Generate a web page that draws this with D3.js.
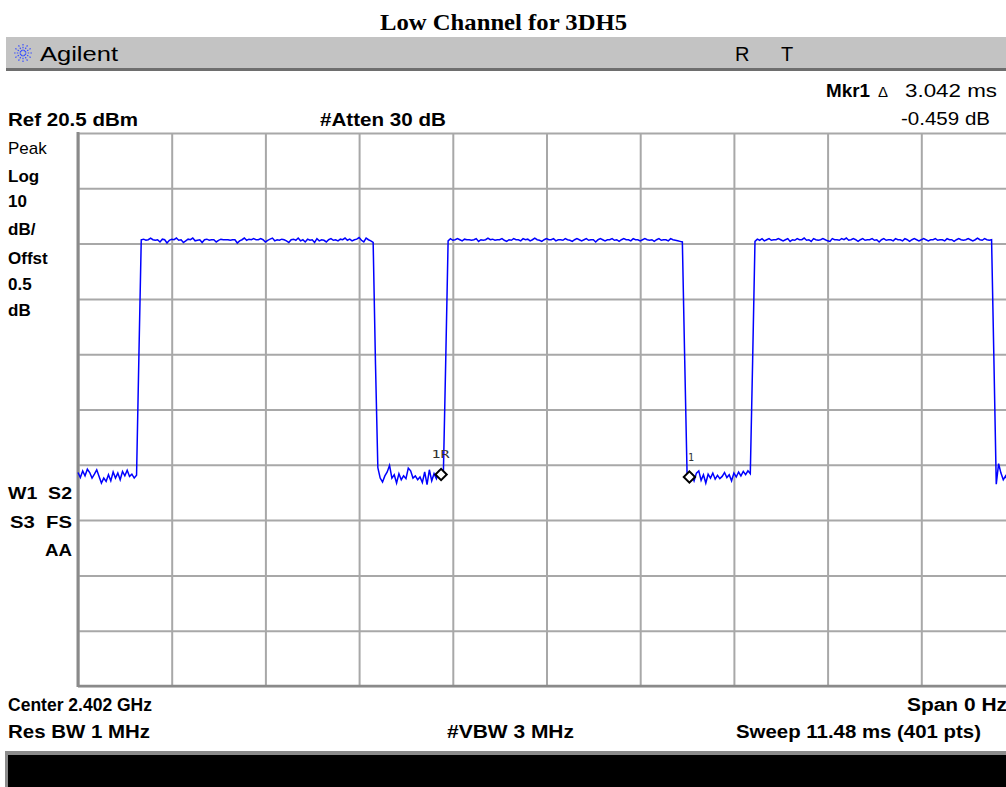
<!DOCTYPE html>
<html>
<head>
<meta charset="utf-8">
<script src="https://cdn.jsdelivr.net/npm/d3@7"></script>
<style>
  html, body { margin: 0; padding: 0; background: #fff; }
  svg { display: block; }
  .inst { font-family: "Liberation Sans Narrow", "Arial Narrow", "Liberation Sans", Arial, sans-serif; }
  .reg { font-family: "Liberation Sans", Arial, sans-serif; }
</style>
</head>
<body>
<svg id="chart" width="1006" height="787"></svg>
<script>
// Zero-span sweep settings
const sweepMs = 11.48;
const nPoints = 401;
const refLevelDbm = 20.5;
const dbPerDiv = 10;
const xDivisions = 10;
const yDivisions = 10;

// Trace amplitude per sweep point (dBm), points 0..400
const lowGap1 = [-40.9,-41.8,-40.6,-41.5,-40.3,-40.9,-41.9,-41.2,-40.4,-41.6,-42.8,-41.9,-42.5,-41.3,-42.4,-40.8,-41.9,-41.0,-42.2,-40.7,-41.5,-40.5,-41.6,-41.2,-41.9,-41.4];
const edgeRise1 = [-19.8];
const burst1 = [
  1.2,1.3,1.1,1.2,1.5,1.2,1.1,1.2,0.8,1.3,
  1.2,0.6,1.1,1.3,1.2,1.5,1.1,1.2,0.7,1.0,
  1.3,1.2,1.5,1.0,1.1,1.2,0.7,1.2,1.3,1.1,
  1.2,1.2,0.8,1.1,1.3,1.2,1.2,1.2,1.1,1.2,
  1.2,0.6,1.0,1.2,1.5,1.1,1.3,1.2,1.4,1.2,
  1.2,1.4,1.2,0.8,1.1,1.3,1.5,1.0,1.2,1.1,
  1.3,1.2,1.0,0.7,1.2,1.3,1.1,1.5,1.0,1.2,
  0.8,1.3,1.1,1.2,0.7,1.4,1.0,1.2,1.1,0.8,
  1.2,1.4,1.1,1.2,1.0,1.3,1.2,1.5,1.1,1.3,
  1.0,1.2,1.3,1.6,1.1,0.8,1.5,1.2,1.0,0.7];
const edgeFall1 = [-21.3];
const lowGap2 = [-40.0,-41.9,-42.6,-41.5,-40.8,-39.6,-41.9,-41.3,-42.8,-41.1,-42.2,-41.5,-42.0,-40.1,-40.6,-41.9,-41.5,-42.2,-41.7,-42.7,-40.8,-43.1,-40.4,-42.4,-41.1,-42.0,-40.7,-41.25,-40.5];
const edgeRise2 = [-20.3];
const burst2 = [
  1.0,1.4,1.1,1.2,1.4,1.2,1.0,1.3,1.2,1.2,
  1.1,1.2,1.4,0.9,1.2,1.1,1.2,1.5,1.2,1.3,
  1.1,1.2,1.2,1.4,1.1,0.9,1.2,1.1,1.4,1.2,
  1.2,1.0,1.4,1.2,1.3,1.0,1.2,1.5,1.2,1.1,
  0.9,1.2,1.4,1.2,1.2,1.4,1.0,1.2,1.2,1.1,
  1.4,1.2,1.1,0.9,1.2,1.4,1.2,1.0,1.2,1.4,
  1.1,1.2,1.2,0.8,1.2,1.4,1.2,1.0,1.2,1.2,
  1.4,1.1,1.2,0.9,1.2,1.4,1.2,1.2,1.0,1.4,
  1.2,1.2,1.0,1.2,1.4,1.2,1.1,1.2,0.9,1.2,
  1.4,1.1,1.2,1.2,1.0,1.4,1.2,1.1,1.0,0.9,
  0.8];
const edgeFall2 = [-20.5];
const lowGap3 = [-41.0,-41.71,-41.2,-42.4,-41.0,-40.6,-42.3,-41.3,-42.8,-41.2,-41.9,-41.0,-42.1,-41.4,-42.0,-41.6,-40.9,-41.8,-41.3,-42.4,-41.0,-41.7,-40.8,-41.5,-40.7,-41.3,-40.6,-41.1];
const edgeRise3 = [-20.7];
const burst3 = [
  0.9,1.3,1.1,1.4,1.0,1.2,1.4,1.1,1.2,1.2,
  1.4,1.2,1.0,1.2,1.4,0.9,1.2,1.1,1.4,1.2,
  1.2,1.5,1.1,1.2,0.9,1.4,1.2,1.1,1.2,1.4,
  1.2,1.0,0.9,1.4,1.2,1.2,1.1,1.4,1.2,1.5,
  1.1,1.2,1.4,1.2,0.9,1.2,1.4,1.1,1.2,1.2,
  1.4,1.1,1.2,0.8,1.2,1.4,1.1,1.2,1.2,1.0,
  1.4,1.2,1.2,1.0,1.4,1.2,0.9,1.2,1.4,1.2,
  1.0,1.2,1.4,1.2,1.0,1.2,1.2,1.4,1.1,1.2,
  1.2,1.0,1.4,1.2,1.2,0.9,1.2,1.4,1.2,1.1,
  1.2,1.4,1.2,1.0,1.2,1.5,1.2,1.1,1.4,1.2,
  1.1,1.2];
const edgeFall3 = [-20.6];
const lowGap4 = [-43.0,-39.3,-41.0,-42.2,-41.5,-42.6,-41.2,-41.9,-40.8];

// Markers: sweep point index and label
const markerIndex = [155, 261];
const markerLabel = ["1R", "1"];

// Annotation text
const titleText = "Low Channel for 3DH5";
const leftLabels = ["Peak", "Log", "10", "dB/", "Offst", "0.5", "dB"];
const statusLabels = ["W1  S2", "S3  FS", "AA"];

const traceDbm = [].concat(lowGap1, edgeRise1, burst1, edgeFall1, lowGap2, edgeRise2,
  burst2, edgeFall2, lowGap3, edgeRise3, burst3, edgeFall3, lowGap4);
const sweepTime = d3.range(nPoints).map(i => i * sweepMs / (nPoints - 1));

const svg = d3.select("#chart");
const W = 1006;

// Plot frame
const plot = { left: 78, top: 133, width: 937, height: 553 };
const x = d3.scaleLinear().domain([0, sweepMs]).range([plot.left, plot.left + plot.width]);
const y = d3.scaleLinear()
  .domain([refLevelDbm - dbPerDiv * yDivisions, refLevelDbm])
  .range([plot.top + plot.height, plot.top]);

// Title
svg.append("text")
  .attr("x", 380).attr("y", 30)
  .attr("font-family", "'Liberation Serif', 'Times New Roman', serif")
  .attr("font-weight", "bold")
  .attr("font-size", 23)
  .attr("textLength", 247).attr("lengthAdjust", "spacingAndGlyphs")
  .text(titleText);

// Instrument header bar
svg.append("rect").attr("x", 6).attr("y", 37).attr("width", W - 6).attr("height", 33).attr("fill", "#c3c3c3");
svg.append("rect").attr("x", 6).attr("y", 68).attr("width", W - 6).attr("height", 3).attr("fill", "#6e6e6e");

// Starburst logo
const logo = svg.append("g").attr("transform", "translate(23,53)");
d3.range(12).forEach(k => {
  const a = k * Math.PI / 6;
  logo.append("line")
    .attr("x1", Math.cos(a) * 2).attr("y1", Math.sin(a) * 2)
    .attr("x2", Math.cos(a) * 9).attr("y2", Math.sin(a) * 9)
    .attr("stroke", "#3b50ff").attr("stroke-width", 1.2)
    .attr("stroke-dasharray", "1.5,1.2");
});
svg.append("text").attr("class", "reg").attr("x", 40).attr("y", 61)
  .attr("font-size", 20).attr("textLength", 78).attr("lengthAdjust", "spacingAndGlyphs").text("Agilent");
svg.append("text").attr("class", "reg").attr("x", 735).attr("y", 61).attr("font-size", 20).text("R");
svg.append("text").attr("class", "reg").attr("x", 781).attr("y", 61).attr("font-size", 20).text("T");

// Marker readout
svg.append("text").attr("class", "inst").attr("x", 826).attr("y", 97)
  .attr("font-size", 18).attr("font-weight", "bold")
  .attr("textLength", 44).attr("lengthAdjust", "spacingAndGlyphs").text("Mkr1");
svg.append("text").attr("class", "reg").attr("x", 878).attr("y", 97)
  .attr("font-size", 15).text("\u0394");
svg.append("text").attr("class", "inst").attr("x", 905).attr("y", 97)
  .attr("font-size", 18)
  .attr("textLength", 92).attr("lengthAdjust", "spacingAndGlyphs").text("3.042 ms");
svg.append("text").attr("class", "inst").attr("x", 901).attr("y", 125)
  .attr("font-size", 18)
  .attr("textLength", 89).attr("lengthAdjust", "spacingAndGlyphs").text("-0.459 dB");

// Reference / attenuation
svg.append("text").attr("class", "inst").attr("x", 8).attr("y", 126)
  .attr("font-size", 18).attr("font-weight", "bold")
  .attr("textLength", 130).attr("lengthAdjust", "spacingAndGlyphs").text("Ref 20.5 dBm");
svg.append("text").attr("class", "inst").attr("x", 320).attr("y", 126)
  .attr("font-size", 18).attr("font-weight", "bold")
  .attr("textLength", 126).attr("lengthAdjust", "spacingAndGlyphs").text("#Atten 30 dB");

// Left scale annotations
const leftY = [154, 182, 207, 235, 264, 290, 316];
leftLabels.forEach((t, i) => {
  svg.append("text").attr("class", "reg").attr("x", 8).attr("y", leftY[i])
    .attr("font-size", 17).attr("font-weight", i === 0 ? "normal" : "bold").text(t);
});
const statusY = [499, 528, 556];
const statusX = [8, 10, 45];
const statusW = [64, 62, 27];
statusLabels.forEach((t, i) => {
  svg.append("text").attr("class", "reg").attr("x", statusX[i]).attr("y", statusY[i])
    .attr("font-size", 17).attr("font-weight", "bold")
    .attr("textLength", statusW[i]).attr("lengthAdjust", "spacingAndGlyphs")
    .style("white-space", "pre").text(t);
});

// Grid
const gridColor = "#a8a8a8";
const xTicks = d3.range(xDivisions + 1).map(k => k * sweepMs / xDivisions);
const yTicks = d3.range(yDivisions + 1).map(k => refLevelDbm - k * dbPerDiv);

const gx = svg.append("g")
  .attr("transform", `translate(0,${plot.top + plot.height})`)
  .call(d3.axisBottom(x).tickValues(xTicks).tickSize(-plot.height).tickFormat(""));
gx.select(".domain").remove();
gx.selectAll(".tick line").attr("stroke", gridColor).attr("stroke-width", 2);

const gy = svg.append("g")
  .attr("transform", `translate(${plot.left},0)`)
  .call(d3.axisLeft(y).tickValues(yTicks).tickSize(-plot.width).tickFormat(""));
gy.select(".domain").remove();
gy.selectAll(".tick line").attr("stroke", gridColor).attr("stroke-width", 2);

// Frame edges
svg.append("line").attr("x1", plot.left).attr("x2", plot.left)
  .attr("y1", plot.top - 1).attr("y2", plot.top + plot.height + 1)
  .attr("stroke", "#8a8a8a").attr("stroke-width", 3);
svg.append("line").attr("x1", plot.left).attr("x2", plot.left + plot.width)
  .attr("y1", plot.top + plot.height).attr("y2", plot.top + plot.height)
  .attr("stroke", "#8a8a8a").attr("stroke-width", 2.5);

// Trace
const line = d3.line()
  .x((d, i) => x(sweepTime[i]))
  .y(d => y(d));
svg.append("path")
  .datum(traceDbm)
  .attr("fill", "none")
  .attr("stroke", "#0000ff")
  .attr("stroke-width", 1.5)
  .attr("stroke-linejoin", "miter")
  .attr("d", line);

// Markers
const labelDx = [-9.5, -1.5];
const labelW = [18, 6];
markerIndex.forEach((idx, k) => {
  const mx = x(sweepTime[idx]);
  const my = y(traceDbm[idx]);
  svg.append("path")
    .attr("d", d3.symbol(d3.symbolSquare, 64)())
    .attr("transform", `translate(${mx},${my}) rotate(45)`)
    .attr("fill", "#fff")
    .attr("stroke", "#000")
    .attr("stroke-width", 2);
  svg.append("text")
    .attr("x", mx + labelDx[k]).attr("y", my - 16)
    .attr("font-family", "'DejaVu Sans Mono', monospace")
    .attr("font-size", 11)
    .attr("fill", "#333")
    .attr("textLength", labelW[k]).attr("lengthAdjust", "spacingAndGlyphs")
    .text(markerLabel[k]);
});

// Footer settings
svg.append("text").attr("class", "inst").attr("x", 8).attr("y", 711)
  .attr("font-size", 18).attr("font-weight", "bold")
  .attr("textLength", 144).attr("lengthAdjust", "spacingAndGlyphs").text("Center 2.402 GHz");
svg.append("text").attr("class", "inst").attr("x", 907).attr("y", 711)
  .attr("font-size", 18).attr("font-weight", "bold")
  .attr("textLength", 100).attr("lengthAdjust", "spacingAndGlyphs").text("Span 0 Hz");
svg.append("text").attr("class", "inst").attr("x", 8).attr("y", 738)
  .attr("font-size", 18).attr("font-weight", "bold")
  .attr("textLength", 142).attr("lengthAdjust", "spacingAndGlyphs").text("Res BW 1 MHz");
svg.append("text").attr("class", "inst").attr("x", 447).attr("y", 738)
  .attr("font-size", 18).attr("font-weight", "bold")
  .attr("textLength", 127).attr("lengthAdjust", "spacingAndGlyphs").text("#VBW 3 MHz");
svg.append("text").attr("class", "inst").attr("x", 736).attr("y", 738)
  .attr("font-size", 18).attr("font-weight", "bold")
  .attr("textLength", 245).attr("lengthAdjust", "spacingAndGlyphs").text("Sweep 11.48 ms (401 pts)");

// Message bar
svg.append("rect").attr("x", 5).attr("y", 751).attr("width", W - 5).attr("height", 36).attr("fill", "#8c8c8c");
svg.append("rect").attr("x", 8).attr("y", 755).attr("width", W - 8).attr("height", 32).attr("fill", "#000");
</script>
</body>
</html>
